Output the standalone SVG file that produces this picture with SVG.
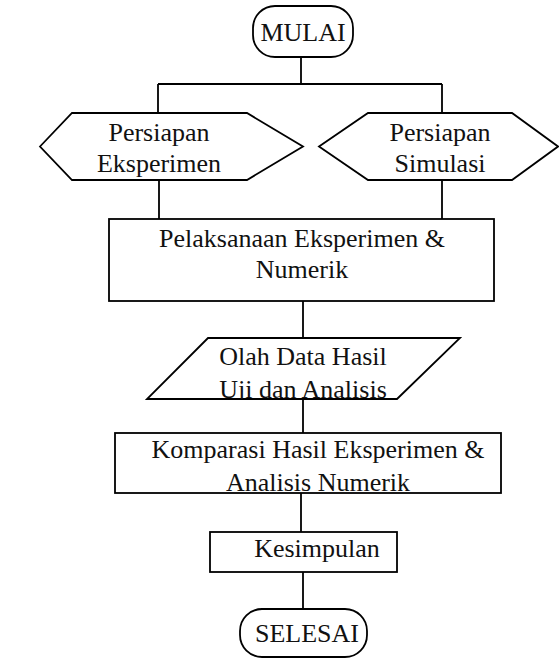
<svg xmlns="http://www.w3.org/2000/svg" width="559" height="659" viewBox="0 0 559 659">
<style>
.s{fill:#fff;stroke:#000;stroke-width:1.8}
.c{fill:none;stroke:#000;stroke-width:1.8}
text{font-family:"Liberation Serif","Times New Roman",serif;font-size:26px;fill:#111;text-anchor:middle}
</style>
<defs>
<clipPath id="clipUji"><rect x="140" y="340" width="330" height="59"/></clipPath>
</defs>
<rect width="559" height="659" fill="#fff"/>
<g id="connectors">
<path class="c" d="M301,57V84M158,84H442M158,84V113M442,84V113M159,180V219M442,180V219M303,301V338M303,399V433M301,493V532M303,572V609"/>
</g>
<g id="mulai">
<rect class="s" x="253" y="6" width="100" height="51" rx="22" ry="22"/>
<text x="303" y="41">MULAI</text>
</g>
<g id="persiapan-eksperimen">
<polygon class="s" points="40,146.5 72,113 247,113 303,146.5 247,180 72,180"/>
<text x="159" y="141">Persiapan</text>
<text x="159" y="172">Eksperimen</text>
</g>
<g id="persiapan-simulasi">
<polygon class="s" points="319,146.5 368,113 512,113 558,146.5 512,180 368,180"/>
<text x="440" y="141">Persiapan</text>
<text x="440" y="172">Simulasi</text>
</g>
<g id="pelaksanaan">
<rect class="s" x="109" y="219" width="385" height="82"/>
<text x="302" y="247">Pelaksanaan Eksperimen &amp;</text>
<text x="302" y="278">Numerik</text>
</g>
<g id="olah-data">
<polygon class="s" points="208,338 460,338 397,399 147,399"/>
<text x="303" y="365">Olah Data Hasil</text>
<text x="303" y="398" clip-path="url(#clipUji)">Uji dan Analisis</text>
</g>
<g id="komparasi">
<rect class="s" x="115" y="433" width="386" height="60"/>
<text x="318" y="458">Komparasi Hasil Eksperimen &amp;</text>
<text x="318" y="491">Analisis Numerik</text>
</g>
<g id="kesimpulan">
<rect class="s" x="210" y="532" width="187" height="40"/>
<text x="317" y="557">Kesimpulan</text>
</g>
<g id="selesai">
<rect class="s" x="240" y="609" width="127" height="48" rx="22" ry="22"/>
<text x="307" y="642">SELESAI</text>
</g>
</svg>
